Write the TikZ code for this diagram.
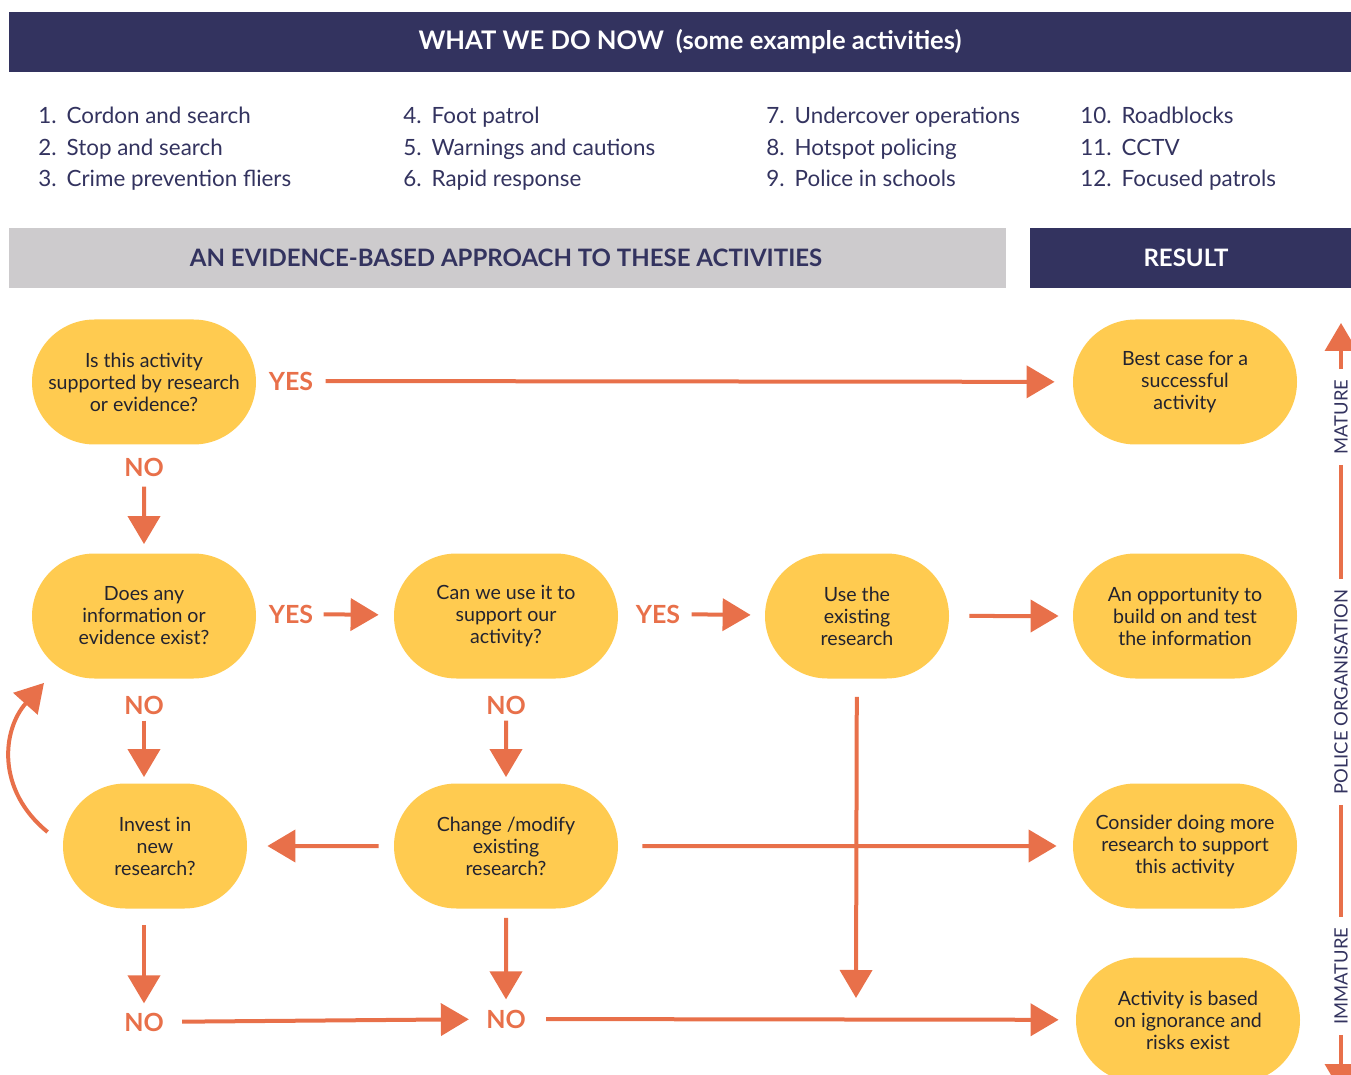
\documentclass[tikz,border=0pt]{standalone}
\usepackage{fontspec}
\setmainfont{Lato}
\usetikzlibrary{arrows.meta,shapes.misc}
\definecolor{navy}{HTML}{33335F}
\definecolor{flame}{HTML}{E8704A}
\definecolor{sun}{HTML}{FFCB50}
\definecolor{mist}{HTML}{CDCBCD}
\definecolor{ink}{HTML}{23232F}

\begin{document}
\begin{tikzpicture}[x=0.5pt, y=-0.5pt,
                    arr/.style={draw=flame, line width=2pt, -{Triangle[length=14pt,width=16pt]}},
                    axisline/.style={draw=flame, line width=1.8pt},
                    ]
    \tikzstyle{pill}=[rounded rectangle, fill=sun, minimum width=116pt, minimum height=62.5pt, inner sep=2pt, align=center, text=ink, font=\fontsize{9.8}{11}\selectfont]
    \tikzstyle{narrow}=[pill, minimum width=96pt];
    \tikzstyle{answer}=[text=flame, inner sep=2pt, font=\fontsize{12.5}{14}\selectfont\bfseries];
    \tikzstyle{heading}=[inner sep=0pt, font=\fontsize{12}{14}\selectfont\bfseries];
    \tikzstyle{item}=[anchor=base west, text=navy, inner sep=0pt, font=\fontsize{11.2}{13}\selectfont];
    \tikzstyle{axis}=[rotate=90, text=navy, inner sep=5pt, font=\fontsize{9.2}{11}\selectfont];

    \clip (0,0) rectangle (1351,1075);

    \fill[navy] (9,12) rectangle (1360,72);
    \node[heading, text=white, font=\fontsize{12.8}{15}\selectfont\bfseries] (now) at (690,42) {WHAT WE DO NOW\hspace{6pt}(some example activities)};

    \foreach \n/\t [count=\i from 0] in {1/Cordon and search, 2/Stop and search, 3/Crime prevention fliers,
                                        4/Foot patrol, 5/Warnings and cautions, 6/Rapid response,
                                        7/Undercover operations, 8/Hotspot policing, 9/Police in schools,
                                        10/Roadblocks, 11/CCTV, 12/Focused patrols} {
        \pgfmathsetmacro\colx{{38,403,766,1080}[int(\i/3)]}
        \pgfmathsetmacro\rowy{124+31.5*mod(\i,3)}
        \node[item] (item\n) at (\colx,\rowy) {\n.\hspace{5pt}\t};
    }

    \fill[mist] (9,228) rectangle (1006,288);
    \node[heading, text=navy] (approach) at (506,258) {AN EVIDENCE-BASED APPROACH TO THESE ACTIVITIES};
    \fill[navy] (1030,228) rectangle (1360,288);
    \node[heading, text=white] (result) at (1186,258) {RESULT};

    \node[pill] (ask) at (144,382) {Is this activity\\supported by research\\or evidence?};
    \node[pill] (exist) at (144,616) {Does any\\information or\\evidence exist?};
    \node[pill] (use) at (506,616) {Can we use it to\\support our\\activity?};
    \node[narrow] (apply) at (857,616) {Use the\\existing\\research};
    \node[narrow] (invest) at (155,846) {Invest in\\new\\research?};
    \node[pill] (modify) at (506,846) {Change /modify\\existing\\research?};
    \node[pill] (best) at (1185,382) {Best case for a\\successful\\activity};
    \node[pill] (build) at (1185,616) {An opportunity to\\build on and test\\the information};
    \node[pill] (more) at (1185,846) {Consider doing more\\research to support\\this activity};
    \node[pill] (risk) at (1188,1020) {Activity is based\\on ignorance and\\risks exist};

    \node[answer] (yes1) at (291,381) {YES};
    \node[answer] (no1) at (144,467) {NO};
    \node[answer] (yes2) at (291,614) {YES};
    \node[answer] (yes3) at (658,614) {YES};
    \node[answer] (no2) at (144,705) {NO};
    \node[answer] (no3) at (506,705) {NO};
    \node[answer] (no4) at (144,1022) {NO};
    \node[answer] (no5) at (506,1019) {NO};
    \coordinate (merge) at (856,998);

    \draw[arr, shorten <=4pt, shorten >=9pt] (yes1) -- (best);
    \draw[arr, shorten <=3pt, shorten >=4.5pt] (no1) -- (exist);
    \draw[arr, shorten <=3pt, shorten >=7.5pt] (yes2) -- (use);
    \draw[arr, shorten <=3.5pt, shorten >=7pt] (yes3) -- (apply);
    \draw[arr, shorten <=10pt, shorten >=7pt] (apply) -- (build);
    \draw[arr, shorten <=1pt, shorten >=3pt] (no2) -- (no2 |- invest.north);
    \draw[arr, shorten <=1pt, shorten >=3pt] (no3) -- (modify);
    \draw[arr, shorten <=7.5pt, shorten >=10pt] (modify) -- (invest);
    \draw[arr, shorten <=12pt, shorten >=8pt] (modify) -- (more);
    \draw[arr, shorten <=9pt] (apply) -- (merge);
    \draw[arr, shorten <=8pt, shorten >=2.5pt] (no4 |- invest.south) -- (no4);
    \draw[arr, shorten <=4.5pt, shorten >=3pt] (modify) -- (no5);
    \draw[arr, shorten <=7pt, shorten >=6.5pt] (no4) -- (no5);
    \draw[arr, shorten <=8pt, shorten >=8.5pt] (no5) -- (risk);
    \draw[arr] ([shift={(-15,-14)}]invest.west) .. controls (-4,790) and (2,730) .. ([shift={(-100,4)}]exist.south);

    \node[axis] (mature) at (1341,417) {MATURE};
    \node[axis] (police) at (1341,692) {POLICE ORGANISATION};
    \node[axis] (immature) at (1341,976) {IMMATURE};
    \coordinate (up) at (1341,323);
    \coordinate (down) at (1341,1092);
    \draw[axisline, -{Triangle[length=14pt,width=16pt]}] (mature) -- (up);
    \draw[axisline] (mature) -- (police);
    \draw[axisline] (police) -- (immature);
    \draw[axisline, -{Triangle[length=14pt,width=16pt]}] (immature) -- (down);
\end{tikzpicture}
\end{document}
